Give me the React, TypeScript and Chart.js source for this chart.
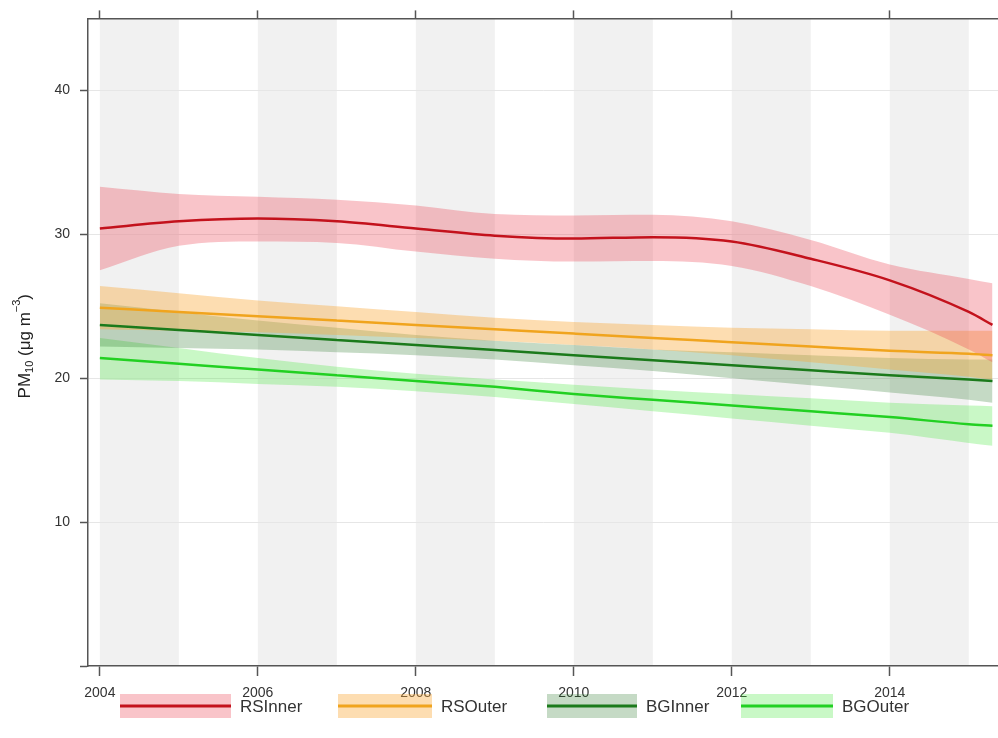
import React, { useEffect, useRef } from "react";
import { Chart, registerables } from "chart.js";

Chart.register(...registerables);

// ---- data ----
const years = [2004, 2005, 2006, 2007, 2008, 2009, 2010, 2011, 2012, 2013, 2014, 2015, 2015.3];

const seriesNames = ["RSInner", "RSOuter", "BGInner", "BGOuter"];

const rsInnerFit = [30.4, 30.9, 31.1, 30.9, 30.4, 29.9, 29.7, 29.8, 29.5, 28.3, 26.8, 24.6, 23.7];
const rsInnerUpper = [33.3, 32.8, 32.6, 32.4, 32.0, 31.4, 31.3, 31.35, 30.9, 29.6, 27.9, 26.9, 26.6];
const rsInnerLower = [27.5, 29.2, 29.5, 29.4, 28.8, 28.3, 28.1, 28.15, 27.8, 26.4, 24.4, 22.0, 21.1];

const rsOuterFit = [24.9, 24.6, 24.3, 24.0, 23.7, 23.4, 23.1, 22.8, 22.5, 22.2, 21.9, 21.7, 21.6];
const rsOuterUpper = [26.4, 25.9, 25.4, 25.0, 24.6, 24.2, 23.9, 23.7, 23.5, 23.4, 23.3, 23.3, 23.3];
const rsOuterLower = [23.4, 23.3, 23.2, 23.0, 22.8, 22.6, 22.3, 22.0, 21.6, 21.1, 20.6, 20.1, 19.9];

const bgInnerFit = [23.7, 23.35, 23.0, 22.65, 22.3, 21.95, 21.6, 21.25, 20.9, 20.55, 20.2, 19.9, 19.8];
const bgInnerUpper = [25.2, 24.6, 24.0, 23.5, 23.0, 22.6, 22.3, 22.0, 21.8, 21.6, 21.4, 21.3, 21.3];
const bgInnerLower = [22.2, 22.1, 22.0, 21.8, 21.6, 21.3, 20.9, 20.5, 20.0, 19.5, 19.0, 18.5, 18.3];

const bgOuterFit = [21.4, 21.0, 20.6, 20.2, 19.8, 19.4, 18.9, 18.5, 18.1, 17.7, 17.3, 16.8, 16.7];
const bgOuterUpper = [22.8, 22.1, 21.4, 20.8, 20.3, 19.9, 19.55, 19.2, 18.9, 18.6, 18.3, 18.1, 18.05];
const bgOuterLower = [19.9, 19.8, 19.6, 19.4, 19.1, 18.7, 18.2, 17.7, 17.2, 16.7, 16.2, 15.5, 15.3];

const xTicks = [2004, 2006, 2008, 2010, 2012, 2014];
const yTicks = [0, 10, 20, 30, 40];
const shadedYearStarts = [2004, 2006, 2008, 2010, 2012, 2014];

const lineColors = ["#c3121c", "#f0a41e", "#1b7a1b", "#22d022"];
const bandColors = [
  "rgba(235,60,75,0.30)",
  "rgba(250,170,60,0.40)",
  "rgba(40,120,40,0.27)",
  "rgba(60,230,50,0.28)",
];

const fits = [rsInnerFit, rsOuterFit, bgInnerFit, bgOuterFit];
const uppers = [rsInnerUpper, rsOuterUpper, bgInnerUpper, bgOuterUpper];
const lowers = [rsInnerLower, rsOuterLower, bgInnerLower, bgOuterLower];

const toPts = (arr: number[]) => arr.map((v, i) => ({ x: years[i], y: v }));

const FONT = "'Liberation Sans', Arial, sans-serif";

const shadingPlugin = {
  id: "yearShading",
  beforeDraw(chart: any) {
    const { ctx, chartArea, scales } = chart;
    const xs = scales.x;
    ctx.save();
    ctx.fillStyle = "#f1f1f1";
    shadedYearStarts.forEach((y0) => {
      const a = xs.getPixelForValue(y0);
      const b = xs.getPixelForValue(y0 + 1);
      ctx.fillRect(a, chartArea.top, b - a, chartArea.bottom - chartArea.top);
    });
    ctx.restore();
  },
};

const decorPlugin = {
  id: "decor",
  afterDraw(chart: any) {
    const { ctx, chartArea } = chart;
    ctx.save();
    // y-axis title with subscript / superscript
    const cy = (chartArea.top + chartArea.bottom) / 2 + 4;
    ctx.translate(25, cy);
    ctx.rotate(-Math.PI / 2);
    ctx.fillStyle = "#222";
    ctx.textBaseline = "middle";
    const big = `17px ${FONT}`;
    const small = `11px ${FONT}`;
    const parts: [string, string, number][] = [
      ["PM", big, 0],
      ["10", small, 5],
      [" (\u03BCg m", big, 0],
      ["\u22123", small, -8],
      [")", big, 0],
    ];
    let total = 0;
    parts.forEach(([t, f]) => {
      ctx.font = f;
      total += ctx.measureText(t).width;
    });
    let x = -total / 2;
    parts.forEach(([t, f, dy]) => {
      ctx.font = f;
      ctx.textAlign = "left";
      ctx.fillText(t, x, dy);
      x += ctx.measureText(t).width;
    });
    ctx.restore();

    // legend
    ctx.save();
    const legendX = [120, 338, 547, 741];
    const legendW = [111, 94, 90, 92];
    const ly = 706;
    seriesNames.forEach((name, i) => {
      ctx.fillStyle = bandColors[i];
      ctx.fillRect(legendX[i], ly - 12, legendW[i], 24);
      ctx.strokeStyle = lineColors[i];
      ctx.lineWidth = 3;
      ctx.beginPath();
      ctx.moveTo(legendX[i], ly);
      ctx.lineTo(legendX[i] + legendW[i], ly);
      ctx.stroke();
      ctx.fillStyle = "#333";
      ctx.font = `17px ${FONT}`;
      ctx.textAlign = "left";
      ctx.textBaseline = "middle";
      ctx.fillText(name, legendX[i] + legendW[i] + 9, ly + 1);
    });
    ctx.restore();
  },
};

export default function App() {
  const ref = useRef<HTMLCanvasElement>(null);

  useEffect(() => {
    if (!ref.current) return;
    const datasets: any[] = [];
    seriesNames.forEach((name, i) => {
      datasets.push({
        label: name,
        data: toPts(fits[i]),
        borderColor: lineColors[i],
        borderWidth: 2.5,
        pointRadius: 0,
        fill: false,
        cubicInterpolationMode: "monotone",
        order: 0,
      });
    });
    seriesNames.forEach((name, i) => {
      datasets.push({
        label: name + " upper",
        data: toPts(uppers[i]),
        borderWidth: 0,
        borderColor: "rgba(0,0,0,0)",
        backgroundColor: bandColors[i],
        pointRadius: 0,
        fill: "+1",
        cubicInterpolationMode: "monotone",
        order: 1,
      });
      datasets.push({
        label: name + " lower",
        data: toPts(lowers[i]),
        borderWidth: 0,
        borderColor: "rgba(0,0,0,0)",
        pointRadius: 0,
        fill: false,
        cubicInterpolationMode: "monotone",
        order: 1,
      });
    });

    const tickFont = { family: FONT, size: 14 };
    const chart = new Chart(ref.current, {
      type: "line",
      data: { datasets },
      plugins: [shadingPlugin, decorPlugin],
      options: {
        animation: false,
        responsive: false,
        layout: { padding: 0 },
        plugins: { legend: { display: false }, tooltip: { enabled: false } },
        scales: {
          x: {
            type: "linear",
            position: "bottom",
            min: 2003.85,
            max: 2015.37,
            afterBuildTicks: (s: any) => {
              s.ticks = xTicks.map((v) => ({ value: v }));
            },
            afterFit: (s: any) => {
              s.height = 72;
            },
            ticks: {
              color: "#333",
              font: tickFont,
              padding: 9,
              maxRotation: 0,
              autoSkip: false,
              callback: (v: any) => String(v),
            },
            grid: {
              drawOnChartArea: false,
              drawTicks: true,
              tickLength: 10,
              tickColor: "#555",
              tickWidth: 1.5,
            },
            border: { display: true, color: "#555", width: 1.5 },
          },
          xTop: {
            type: "linear",
            position: "top",
            min: 2003.85,
            max: 2015.37,
            afterBuildTicks: (s: any) => {
              s.ticks = xTicks.map((v) => ({ value: v }));
            },
            afterFit: (s: any) => {
              s.height = 16;
            },
            ticks: { display: true, callback: () => "", padding: 0, font: { size: 1 } },
            grid: {
              drawOnChartArea: false,
              drawTicks: true,
              tickLength: 8,
              tickColor: "#555",
              tickWidth: 1.5,
            },
            border: { display: true, color: "#555", width: 1.5 },
          },
          y: {
            type: "linear",
            position: "left",
            min: 0,
            max: 45,
            afterBuildTicks: (s: any) => {
              s.ticks = yTicks.map((v) => ({ value: v }));
            },
            afterFit: (s: any) => {
              s.width = 88;
            },
            ticks: {
              color: "#333",
              font: tickFont,
              padding: 10,
              callback: (v: any) => (v === 0 ? "" : String(v)),
            },
            grid: {
              color: (c: any) => (c.tick && c.tick.value === 0 ? "rgba(0,0,0,0)" : "#e6e6e6"),
              lineWidth: 1,
              drawTicks: true,
              tickLength: 8,
              tickColor: "#555",
              tickWidth: 1.5,
            },
            border: { display: true, color: "#555", width: 1.5 },
          },
        },
      } as any,
    });
    return () => chart.destroy();
  }, []);

  return (
    <div style={{ position: "fixed", left: 0, top: 0, width: 998, height: 738, background: "#fff" }}>
      <canvas ref={ref} width={998} height={738} style={{ display: "block" }} />
    </div>
  );
}
